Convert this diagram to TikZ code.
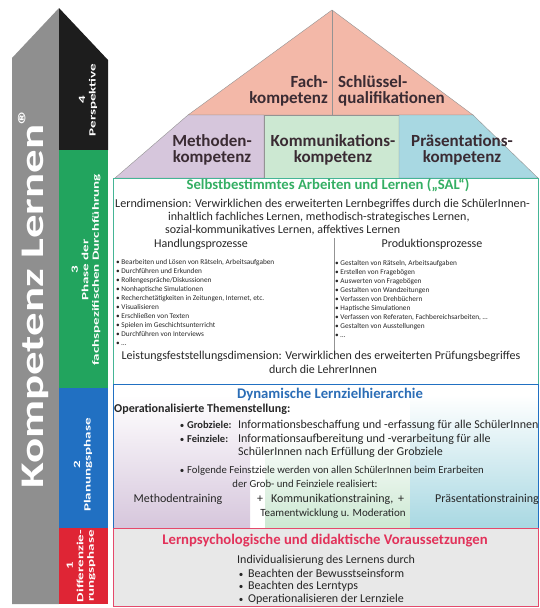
\documentclass[tikz,border=0pt]{standalone}
\usepackage{fontspec}
\setmainfont{Carlito}
\definecolor{klgrau}{HTML}{8F8F8F}
\definecolor{klschwarz}{HTML}{1D1D1D}
\definecolor{klgruen}{HTML}{22A45E}
\definecolor{klblau}{HTML}{2170C2}
\definecolor{klrot}{HTML}{DF2535}
\definecolor{kllachs}{HTML}{F3B8A8}
\definecolor{kllila}{HTML}{D6C6DC}
\definecolor{klmint}{HTML}{CCE8D2}
\definecolor{kltuerkis}{HTML}{A8D8E2}
\definecolor{klbraun}{HTML}{3A2B33}
\definecolor{klpetrol}{HTML}{45B596}
\definecolor{klrosa}{HTML}{E5496B}
\definecolor{kltitelgruen}{HTML}{34AE63}
\definecolor{kltitelblau}{HTML}{2B6DB6}
\definecolor{kltitelrot}{HTML}{E2325A}
\def\farbedach{klbraun}
\def\farbelinie{gray!85}
\def\farbetext{black!85}

\begin{document}
\begin{tikzpicture}[x=1pt,y=-1pt,
	dach/.style={font=\bfseries\fontsize{17}{15.5}\selectfont,text=\farbedach,inner sep=0pt},
	balken/.style={rotate=90,xscale=1.58,font=\bfseries\fontsize{9.5}{10.5}\selectfont,text=white,align=center,inner sep=0pt},
	titel/.style={anchor=base,inner sep=0pt,font=\bfseries\fontsize{14.7}{16}\selectfont},
	fliess/.style={anchor=base west,inner sep=0pt,font=\fontsize{12}{13}\selectfont,text=\farbetext},
	fett/.style={fliess,font=\bfseries\fontsize{12}{13}\selectfont},
	punkt/.style={anchor=base,inner sep=0pt,font=\fontsize{9}{9}\selectfont,text=\farbetext},
	klein/.style={anchor=base west,inner sep=0pt,font=\fontsize{7.3}{8}\selectfont,text=\farbetext}]
	\useasboundingbox (0,0) rectangle (539,608);
	% Pfeil links
	\fill[klgrau] (12,604) -- (12,58) -- (59,8) -- (59,604) -- cycle;
	\fill[klschwarz] (59,8) -- (108,60) -- (108,150) -- (59,150) -- cycle;
	\fill[klgruen] (59,150) rectangle (108,388);
	\fill[klblau] (59,388) rectangle (108,528);
	\fill[klrot] (59,528) rectangle (108,604);
	\path (34,298) node[rotate=90,xscale=1.42,text=white,inner sep=0pt,font=\bfseries\fontsize{33}{33}\selectfont] (kl) {Kompetenz Lernen\textsuperscript{®}};
	\path (88,100) node[balken] (p4) {4\\Perspektive}
		(86,270) node[balken] (p3) {3\\Phase der\\fachspezifischen Durchführung}
		(83,465) node[balken] (p2) {2\\Planungsphase}
		(81,566) node[balken] (p1) {1\\Differenzie-\\rungsphase};
	% Dach
	\path (332,10) coordinate (spitze) (188,115) coordinate (ml) (473,115) coordinate (mr)
		(115,178) coordinate (ul) (538,178) coordinate (ur);
	\filldraw[fill=kllachs,draw=\farbelinie] (spitze) -- (ml) -- (mr) -- cycle;
	\draw[\farbelinie] (spitze) -- (332,115);
	\filldraw[fill=kllila,draw=\farbelinie] (ml) -- (264,115) -- (264,178) -- (ul) -- cycle;
	\filldraw[fill=klmint,draw=\farbelinie] (264,115) rectangle (399,178);
	\filldraw[fill=kltuerkis,draw=\farbelinie] (399,115) -- (mr) -- (ur) -- (399,178) -- cycle;
	\path (328,103) node[dach,anchor=base east,align=right] (fach) {Fach-\\kompetenz}
		(338,103) node[dach,anchor=base west,align=left] (schluessel) {Schlüssel-\\qualifikationen}
		(212,162) node[dach,anchor=base,align=center] (methoden) {Methoden-\\kompetenz}
		(333,162) node[dach,anchor=base,align=center] (kommunikation) {Kommunikations-\\kompetenz}
		(462,162) node[dach,anchor=base,align=center] (praesentation) {Präsentations-\\kompetenz};
	% Feld 3
	\draw[klpetrol,line width=.8pt] (113,178) rectangle (538,384);
	\path (328,189) node[titel,text=kltitelgruen] (sal) {Selbstbestimmtes Arbeiten und Lernen („SAL“)};
	\path (115,207) node[fliess,font=\fontsize{12.1}{13}\selectfont] (ld1) {Lerndimension: Verwirklichen des erweiterten Lernbegriffes durch die SchülerInnen-}
		(168,220) node[fliess] (ld2) {inhaltlich fachliches Lernen, methodisch-strategisches Lernen,}
		(165,233) node[fliess] (ld3) {sozial-kommunikatives Lernen, affektives Lernen}
		(201,247) node[fliess,anchor=base] (hp) {Handlungsprozesse}
		(432,247) node[fliess,anchor=base] (pp) {Produktionsprozesse};
	\draw[\farbelinie] (334,238) -- (334,357);
	\foreach \eintrag [count=\i] in {{Bearbeiten und Lösen von Rätseln, Arbeitsaufgaben},{Durchführen und Erkunden},
		{Rollengespräche/Diskussionen},{Nonhaptische Simulationen},{Recherchetätigkeiten in Zeitungen, Internet, etc.},
		{Visualisieren},{Erschließen von Texten},{Spielen im Geschichtsunterricht},{Durchführen von Interviews},{\dots}}
		\path (116,256+8.9*\i) node[klein] (hp\i) {•\ \eintrag};
	\foreach \eintrag [count=\i] in {{Gestalten von Rätseln, Arbeitsaufgaben},{Erstellen von Fragebögen},
		{Auswerten von Fragebögen},{Gestalten von Wandzeitungen},{Verfassen von Drehbüchern},{Haptische Simulationen},
		{Verfassen von Referaten, Fachbereichsarbeiten, \dots},{Gestalten von Ausstellungen},{\dots}}
		\path (335,256+9*\i) node[klein] (pp\i) {•\ \eintrag};
	\path (321,359) node[fliess,anchor=base] (lf1) {Leistungsfeststellungsdimension: Verwirklichen des erweiterten Prüfungsbegriffes}
		(323,373) node[fliess,anchor=base] (lf2) {durch die LehrerInnen};
	% Feld 2
	\shade[top color=white,bottom color=kllila] (113,395) rectangle (250,528);
	\shade[top color=white,bottom color=klmint] (265,430) rectangle (410,528);
	\shade[top color=white,bottom color=kltuerkis] (410,395) rectangle (538,528);
	\draw[klblau,line width=.8pt] (113,384) rectangle (538,528);
	\path (330,398) node[titel,text=kltitelblau] (dl) {Dynamische Lernzielhierarchie};
	\path (114,412) node[fett] (ot) {Operationalisierte Themenstellung:}
		(182,428) node[punkt] (b1) {•}
		(187,428) node[fett,font=\bfseries\fontsize{10.5}{13}\selectfont] (grob) {Grobziele:}
		(238,428) node[fliess] (grob1) {Informationsbeschaffung und -erfassung für alle SchülerInnen}
		(182,442) node[punkt] (b2) {•}
		(187,442) node[fett,font=\bfseries\fontsize{10.5}{13}\selectfont] (fein) {Feinziele:}
		(238,442) node[fliess] (fein1) {Informationsaufbereitung und -verarbeitung für alle}
		(238,455) node[fliess] (fein2) {SchülerInnen nach Erfüllung der Grobziele}
		(182,473) node[punkt] (b3) {•}
		(187,473) node[fliess,font=\fontsize{10.7}{13}\selectfont] (folg1) {Folgende Feinstziele werden von allen SchülerInnen beim Erarbeiten}
		(305,487) node[fliess,anchor=base,font=\fontsize{10.7}{13}\selectfont] (folg2) {der Grob- und Feinziele realisiert:}
		(178,502) node[fliess,anchor=base] (mt) {Methodentraining}
		(260,502) node[fliess,anchor=base] (plus1) {+}
		(271,502) node[fliess] (kt) {Kommunikationstraining,}
		(401,502) node[fliess,anchor=base] (plus2) {+}
		(487,502) node[fliess,anchor=base] (pt) {Präsentationstraining}
		(333,516) node[fliess,anchor=base,font=\fontsize{11}{13}\selectfont] (tm) {Teamentwicklung u. Moderation};
	% Feld 1
	\filldraw[fill=black!9,draw=klrosa,line width=.8pt] (113,528) rectangle (538,606);
	\path (325,544) node[titel,text=kltitelrot] (lv) {Lernpsychologische und didaktische Voraussetzungen};
	\path (237,563) node[fliess] (ind) {Individualisierung des Lernens durch}
		(241,577) node[punkt] (b4) {•} (248,577) node[fliess] (ind1) {Beachten der Bewusstseinsform}
		(241,589) node[punkt] (b5) {•} (248,589) node[fliess] (ind2) {Beachten des Lerntyps}
		(241,602) node[punkt] (b6) {•} (248,602) node[fliess] (ind3) {Operationalisieren der Lernziele};
\end{tikzpicture}
\end{document}
